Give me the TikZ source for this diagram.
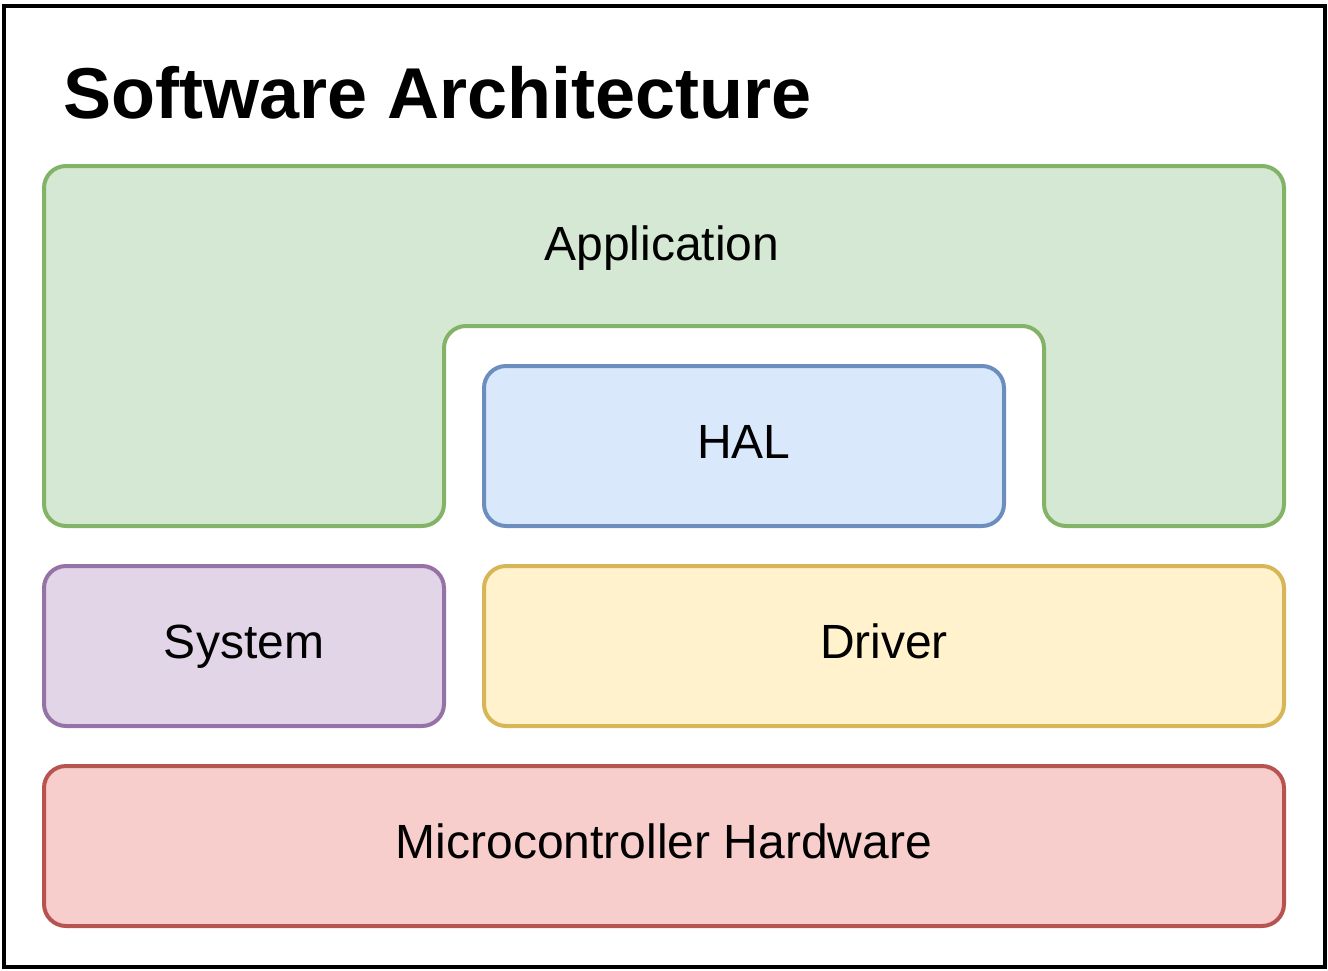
\documentclass[tikz,border=0pt]{standalone}
\usepackage{fontspec}
\setmainfont{Liberation Sans}
\usetikzlibrary{positioning}
\definecolor{appfill}{HTML}{D5E8D4}
\definecolor{appline}{HTML}{82B366}
\definecolor{halfill}{HTML}{DAE8FC}
\definecolor{halline}{HTML}{6C8EBF}
\definecolor{sysfill}{HTML}{E1D5E7}
\definecolor{sysline}{HTML}{9673A6}
\definecolor{drvfill}{HTML}{FFF2CC}
\definecolor{drvline}{HTML}{D6B656}
\definecolor{hwfill}{HTML}{F8CECC}
\definecolor{hwline}{HTML}{B85450}

\begin{document}
\begin{tikzpicture}[
  x=1pt, y=-1pt,
  lbl/.style      = {inner sep=0pt, text height=34pt, text depth=10pt, font=\fontsize{48}{58}\selectfont},
  layerbox/.style = {lbl, rounded corners=22pt, line width=4pt, minimum height=160pt, align=center},
  appbox/.style   = {draw=appline, fill=appfill, rounded corners=22pt, line width=4pt},
  halbox/.style   = {layerbox, draw=halline, fill=halfill},
  sysbox/.style   = {layerbox, draw=sysline, fill=sysfill},
  drvbox/.style   = {layerbox, draw=drvline, fill=drvfill},
  hwbox/.style    = {layerbox, draw=hwline, fill=hwfill},
  title/.style    = {inner sep=0pt, anchor=base west, font=\fontsize{72}{86}\selectfont\bfseries},
]
\useasboundingbox (0,0) rectangle (1328,970);
\draw[line width=4pt] (4,6) rectangle (1325,967);
\node[title] (head) at (63,118) {Software Architecture};
% application layer wraps round the HAL
\draw[appbox] (44,166) -- (1284,166) -- (1284,526) -- (1044,526) -- (1044,326)
  -- (444,326) -- (444,526) -- (44,526) -- cycle;
\node[lbl] (app) at (662,248) {Application};
\node[halbox, minimum width=520pt] (hal) at (744,446) {HAL};
\node[sysbox, minimum width=400pt] (sys) at (244,646) {System};
\node[drvbox, minimum width=800pt] (drv) at (884,646) {Driver};
\node[hwbox, minimum width=1240pt] (hw) at (664,846) {Microcontroller Hardware};
\end{tikzpicture}
\end{document}
